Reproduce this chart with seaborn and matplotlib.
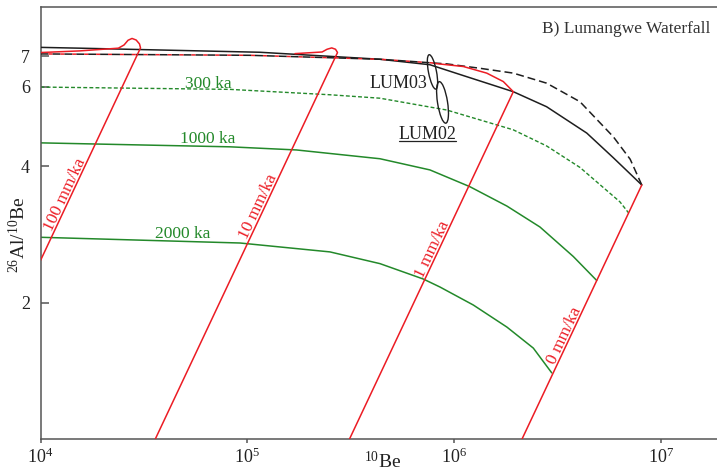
import numpy as np
import matplotlib
matplotlib.use("Agg")
import matplotlib.pyplot as plt
from matplotlib.patches import Ellipse
from matplotlib.lines import Line2D
from matplotlib.transforms import ScaledTranslation
from matplotlib.ticker import FixedLocator, FixedFormatter, NullLocator
import seaborn as sns

# ---------------------------------------------------------------------------
# 10Be concentration (atoms/g) versus 26Al/10Be ratio
# ---------------------------------------------------------------------------
# steady-state erosion curve
steady_be = [1.0e4, 1.55e4, 1.15e5, 4.38e5, 7.64e5, 1.108e6, 1.933e6, 2.80e6, 4.38e6, 5.89e6, 8.08e6]
steady_ratio = [7.33, 7.30, 7.15, 6.90, 6.71, 6.35, 5.85, 5.42, 4.74, 4.18, 3.64]

# constant exposure (no erosion) curve
exposure_be = [1.0e4, 1.03e5, 4.38e5, 6.35e5, 7.93e5, 9.21e5, 1.334e6, 1.933e6, 2.80e6,
               4.06e6, 5.89e6, 7.1e6, 8.08e6]
exposure_ratio = [7.09, 7.04, 6.90, 6.82, 6.77, 6.74, 6.59, 6.43, 6.11, 5.56, 4.65, 4.15, 3.64]
exposure_red_points = 5  # leading part of the exposure curve also traced in red

# burial isochrons
iso_300_be = [1.0e4, 8.24e4, 2.51e5, 4.38e5, 9.21e5, 1.93e6, 2.80e6, 4.06e6, 6.34e6, 6.97e6]
iso_300_ratio = [5.99, 5.92, 5.76, 5.66, 5.33, 4.82, 4.44, 3.98, 3.34, 3.16]

iso_1000_be = [1.0e4, 8.24e4, 1.73e5, 4.38e5, 7.64e5, 1.19e6, 1.80e6, 2.60e6, 3.77e6, 4.89e6]
iso_1000_ratio = [4.51, 4.42, 4.35, 4.16, 3.93, 3.61, 3.27, 2.94, 2.53, 2.24]

iso_2000_be = [1.0e4, 9.22e4, 2.51e5, 4.38e5, 7.10e5, 8.55e5, 1.238e6, 1.80e6, 2.415e6, 2.965e6]
iso_2000_ratio = [2.79, 2.71, 2.59, 2.44, 2.256, 2.166, 1.977, 1.767, 1.588, 1.40]

isochron_labels = ["300 ka", "1000 ka", "2000 ka"]

# burial paths for constant erosion rates
path_100_be = [1.0e4, 1.55e4, 2.38e4, 2.535e4, 2.65e4, 2.77e4, 2.90e4, 3.01e4, 3.045e4, 1.0e4]
path_100_ratio = [7.14, 7.20, 7.30, 7.42, 7.60, 7.67, 7.61, 7.46, 7.31, 2.48]

path_10_be = [1.70e5, 2.30e5, 2.43e5, 2.56e5, 2.67e5, 2.73e5, 3.59e4]
path_10_ratio = [7.10, 7.16, 7.26, 7.31, 7.26, 7.14, 1.0]

path_1_be = [7.93e5, 1.108e6, 1.438e6, 1.729e6, 1.933e6, 3.12e5]
path_1_ratio = [6.76, 6.65, 6.43, 6.16, 5.85, 1.0]

path_0_be = [8.08e6, 2.13e6]
path_0_ratio = [3.64, 1.0]

erosion_labels = ["100 mm/ka", "10 mm/ka", "1 mm/ka", "0 mm/ka"]
erosion_label_ratio = [3.42, 3.22, 2.59, 1.67]

# samples
sample_names = ["LUM03", "LUM02"]
sample_be = [7.86e5, 8.79e5]
sample_ratio = [6.47, 5.54]

x_ticks = [1e4, 1e5, 1e6, 1e7]
y_ticks = [2, 4, 6, 7]
y_tick_labels = ["2", "4", "6", "7"]

# ---------------------------------------------------------------------------
sns.set_theme(style="white")
plt.rcParams["font.family"] = ["Liberation Serif", "DejaVu Serif"]
plt.rcParams["mathtext.fontset"] = "custom"
plt.rcParams["mathtext.rm"] = "Liberation Serif"
plt.rcParams["mathtext.it"] = "Liberation Serif:italic"
plt.rcParams["mathtext.bf"] = "Liberation Serif:bold"

RED = "#ec1c24"
GREEN = "#23892a"
BLACK = "#1e1e1e"
SPINE = "#555555"
TEXT = "#222222"

fig = plt.figure(figsize=(7.17, 4.74), dpi=100)
ax = fig.add_axes([0.0565, 0.0738, 0.9435, 0.9114])
ax.set_xscale("log")
ax.set_yscale("log")

LW = 1.1

# isochrons
sns.lineplot(x=iso_300_be, y=iso_300_ratio, sort=False, estimator=None, ax=ax,
             color=GREEN, lw=1.0, linestyle=(0, (2.8, 1.6)))
sns.lineplot(x=iso_1000_be, y=iso_1000_ratio, sort=False, estimator=None, ax=ax,
             color=GREEN, lw=LW)
sns.lineplot(x=iso_2000_be, y=iso_2000_ratio, sort=False, estimator=None, ax=ax,
             color=GREEN, lw=LW)

# steady-state and constant-exposure curves
sns.lineplot(x=steady_be, y=steady_ratio, sort=False, estimator=None, ax=ax,
             color=BLACK, lw=LW, zorder=3)
sns.lineplot(x=exposure_be, y=exposure_ratio, sort=False, estimator=None, ax=ax,
             color=BLACK, lw=LW, linestyle=(0, (5.2, 2.6)), zorder=3)
sns.lineplot(x=exposure_be[:exposure_red_points], y=exposure_ratio[:exposure_red_points],
             sort=False, estimator=None, ax=ax, color=RED, lw=LW,
             linestyle=(2.6, (2.6, 5.2)), zorder=4)

# erosion-rate burial paths
paths = [(path_100_be, path_100_ratio), (path_10_be, path_10_ratio),
         (path_1_be, path_1_ratio), (path_0_be, path_0_ratio)]
for be, ratio in paths:
    sns.lineplot(x=be, y=ratio, sort=False, estimator=None, ax=ax,
                 color=RED, lw=LW, zorder=3.5)

ax.set_xlim(1e4, 1.867e7)
ax.set_ylim(1.0, 9.0)
ax.set_xlabel("")
ax.set_ylabel("")

# ticks
ax.xaxis.set_major_locator(FixedLocator(x_ticks))
ax.xaxis.set_minor_locator(NullLocator())
ax.yaxis.set_major_locator(FixedLocator(y_ticks))
ax.yaxis.set_major_formatter(FixedFormatter(y_tick_labels))
ax.yaxis.set_minor_locator(NullLocator())
ax.tick_params(axis="y", which="major", direction="in", length=6, width=1.1,
               color=SPINE, pad=7.5, labelsize=13, labelcolor=TEXT, left=True)
ax.tick_params(axis="x", which="major", direction="out", length=3, width=1.1,
               color=SPINE, pad=3, labelsize=13, labelcolor=TEXT, bottom=True)

for side in ["left", "bottom", "top"]:
    ax.spines[side].set_color(SPINE)
    ax.spines[side].set_linewidth(1.1)
ax.spines["right"].set_visible(False)

# isochron labels sit just above their curves
iso_label_pos = [(5.0e4, 5.97), (4.73e4, 4.51), (3.58e4, 2.78)]
for lab, (lx, ly) in zip(isochron_labels, iso_label_pos):
    ax.text(lx, ly, lab, color=GREEN, fontsize=12.5, ha="left", va="baseline")

# erosion-rate labels along the straight burial segments
for lab, (be, ratio), r in zip(erosion_labels, paths, erosion_label_ratio):
    x_top, x_bot = np.log10(be[-2]), np.log10(be[-1])
    r_top, r_bot = np.log(ratio[-2]), np.log(ratio[-1])
    t = (np.log(r) - r_bot) / (r_top - r_bot)
    lx = 10 ** (x_bot + t * (x_top - x_bot))
    p = ax.transData.transform([[be[-1], ratio[-1]], [be[-2], ratio[-2]]])
    d = p[1] - p[0]
    ang = np.degrees(np.arctan2(d[1], d[0]))
    off = 1.5
    nx, ny = -np.sin(np.radians(ang)) * off, np.cos(np.radians(ang)) * off
    ax.annotate(lab, xy=(lx, r), xytext=(nx, ny), textcoords="offset points",
                rotation=ang, rotation_mode="anchor", ha="center", va="baseline",
                color=RED, fontsize=12.5)

# sample error ellipses
ell_w = [0.08, 0.10]
ell_h = [0.35, 0.42]
ell_ang = [11, 9]
for cx, cy, w, h, a in zip(sample_be, sample_ratio, ell_w, ell_h, ell_ang):
    tr = fig.dpi_scale_trans + ScaledTranslation(cx, cy, ax.transData)
    e = Ellipse((0, 0), w, h, angle=a, transform=tr, fill=False, ec=BLACK, lw=1.0, zorder=5)
    ax.add_artist(e)

ax.text(7.40e5, 5.96, sample_names[0], color=TEXT, fontsize=13, ha="right", va="baseline")
lum02_xy = (7.44e5, 4.60)
t02 = ax.text(*lum02_xy, sample_names[1], color=TEXT, fontsize=13, ha="center", va="baseline")
fig.canvas.draw()
bb = t02.get_window_extent(fig.canvas.get_renderer())
base_y = ax.transData.transform(lum02_xy)[1] - 2.5
inv = fig.transFigure.inverted()
(u0, v0), (u1, v1) = inv.transform([[bb.x0, base_y], [bb.x1, base_y]])
fig.add_artist(Line2D([u0, u1], [v0, v1], transform=fig.transFigure, color=TEXT, lw=0.9))

# axis labels and panel title
ax.text(-0.032, 0.472, r"$^{26}$Al/$^{10}$Be", transform=ax.transAxes, rotation=90,
        ha="center", va="center", fontsize=14, color=TEXT)
ax.text(0.506, -0.053, r"$^{10}$Be", transform=ax.transAxes, ha="center", va="center",
        fontsize=14, color=TEXT)
ax.text(0.9897, 0.9398, "B) Lumangwe Waterfall", transform=ax.transAxes, ha="right",
        va="baseline", fontsize=12.5, color="#333333")

fig.savefig("out.png", dpi=100)
